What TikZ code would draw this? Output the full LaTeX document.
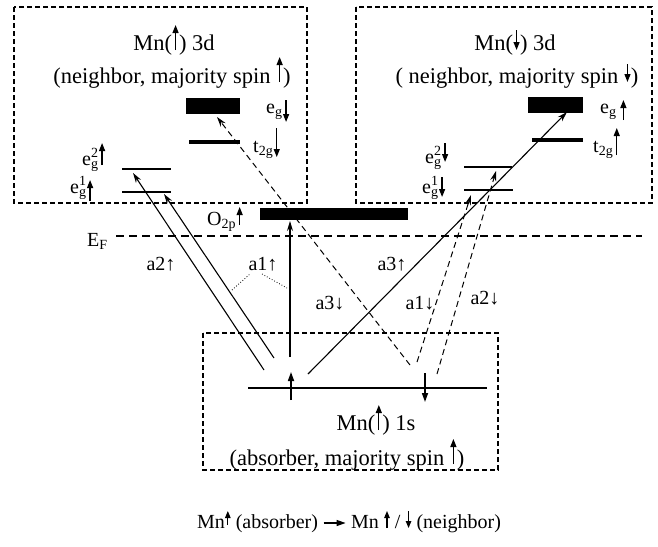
\documentclass[tikz,border=0pt]{standalone}
\usepackage{fontspec}
\setmainfont{Liberation Serif}
\usetikzlibrary{arrows.meta}
% inline spin arrow: from #1 to #2 (pt above baseline)
\newcommand{\SA}[2]{\tikz[baseline=0pt]{\useasboundingbox (-3.5pt,0pt) rectangle (3.5pt,1pt);\draw[line width=1.2pt,-{Triangle[length=8pt,width=6pt]}] (0pt,#1pt)--(0pt,#2pt);}}
\newcommand{\SB}[2]{\tikz[baseline=0pt]{\useasboundingbox (-3pt,0pt) rectangle (3pt,1pt);\draw[line width=1.1pt,-{Triangle[length=7pt,width=5.5pt]}] (0pt,#1pt)--(0pt,#2pt);}}
\newcommand{\LA}{\tikz[baseline=-5pt]{\draw[line width=1.2pt,-{Triangle[length=9pt,width=6pt]}] (0pt,0pt)--(22pt,0pt);}}
\begin{document}
\begin{tikzpicture}[x=1pt,y=-1pt,
  box/.style={dash pattern=on 5pt off 3pt, line width=1.3pt},
  txt/.style={font=\fontsize{20}{24}\selectfont, inner sep=0pt, anchor=base},
  big/.style={txt, font=\fontsize{22.5}{26}\selectfont},
  lbl/.style={txt, anchor=base west},
  tr/.style={line width=1.1pt,-{Stealth[length=10pt,width=6pt]}},
  trd/.style={tr, line width=1pt, dash pattern=on 6pt off 4pt},
  spin/.style={line width=1.6pt,-{Triangle[length=9pt,width=6pt]}}]
\fill[white] (0,0) rectangle (658,546);
\useasboundingbox (0,0) rectangle (658,546);
% boxes
\draw[box] (14,7) rectangle (307,203);
\draw[box] (356,7) rectangle (652,203);
\draw[box] (203,333) rectangle (498,470);
% Fermi level
\coordinate (EFl) at (116,236);
\coordinate (EFr) at (642,236);
\draw[line width=1.6pt, dash pattern=on 8pt off 5pt] (EFl) -- (EFr);
\node[lbl] (EF) at (87,246) {E\textsubscript{F}};
% left Mn 3d levels
\fill (186,98) rectangle (240,114);
\draw[line width=4pt] (189,142) -- (240,142);
\draw[line width=2pt] (122,169) -- (171,169);
\draw[line width=2.5pt] (122,192) -- (171,192);
% right Mn 3d levels
\fill (528,97) rectangle (583,113);
\draw[line width=4pt] (532,140) -- (583,140);
\draw[line width=2.5pt] (464,167) -- (512,167);
\draw[line width=2.5pt] (464,190) -- (513,190);
% O2p
\fill (260,208) rectangle (408,220);
\node[lbl] (O2p) at (207,225) {O\textsubscript{2p}\SA{0}{18}};
% titles
\node[big] (tL1) at (174,50) {Mn(\SA{0}{25}) 3d};
\node[big] (tL2) at (172,83) {(neighbor, majority spin \SA{1}{26})};
\node[big] (tR1) at (515,50) {Mn(\SA{20}{0}) 3d};
\node[big] (tR2) at (517,83) {( neighbor, majority spin \SA{19}{1})};
% level labels left
\node[lbl] (egL) at (266,113) {e\textsubscript{g}\SA{13}{-9}};
\node[lbl] (t2gL) at (253,152) {t\textsubscript{2g}\SA{24}{-5}};
\node[lbl] (e2L) at (82,165) {e\rlap{\textsuperscript{2}}\textsubscript{g}\SA{0}{22}};
\node[lbl] (e1L) at (70,193) {e\rlap{\textsuperscript{1}}\textsubscript{g}\SA{-8}{13}};
% level labels right
\node[lbl] (egR) at (600,113) {e\textsubscript{g}\,\SA{-7}{13}};
\node[lbl] (t2gR) at (593,152) {t\textsubscript{2g}\SA{-3}{24}};
\node[lbl] (e2R) at (425,163) {e\rlap{\textsuperscript{2}}\textsubscript{g}\SA{20}{1}};
\node[lbl] (e1R) at (422,193) {e\rlap{\textsuperscript{1}}\textsubscript{g}\SA{16}{-4}};
% 1s level
\draw[line width=1.5pt] (248,388) -- (487,388);
\coordinate (su0) at (291,400); \coordinate (su1) at (291,372);
\coordinate (sd0) at (425,373); \coordinate (sd1) at (425,402);
\draw[spin] (su0) -- (su1);
\draw[spin] (sd0) -- (sd1);
\node[big] (mn1s) at (376,430) {Mn(\SA{0}{25}) 1s};
\node[big] (abs) at (347,465) {(absorber, majority spin \SA{1}{26})};
% transitions
\coordinate (a2Aft) at (264,370); \coordinate (a2Ato) at (133,173);
\coordinate (a2Bft) at (274,358); \coordinate (a2Bto) at (164,194);
\coordinate (a1ft) at (290,357); \coordinate (a1to) at (290,221);
\coordinate (a3uft) at (308,374); \coordinate (a3uto) at (567,112);
\coordinate (a3dft) at (410,365); \coordinate (a3dto) at (217,117);
\coordinate (a1dft) at (417,362); \coordinate (a1dto) at (471,195);
\coordinate (a2dft) at (437,374); \coordinate (a2dto) at (496,171);
\draw[tr] (a2Aft) -- (a2Ato);
\draw[tr] (a2Bft) -- (a2Bto);
\draw[tr] (a1ft) -- (a1to);
\draw[tr] (a3uft) -- (a3uto);
\draw[trd] (a3dft) -- (a3dto);
\draw[trd] (a1dft) -- (a1dto);
\draw[trd] (a2dft) -- (a2dto);
% transition labels
\node[txt] (la2u) at (161,270) {a2↑};
\node[txt] (la1u) at (263,270) {a1↑};
\node[txt] (la3u) at (392,270) {a3↑};
\node[txt] (la3d) at (330,309) {a3↓};
\node[txt] (la1d) at (420,309) {a1↓};
\node[txt] (la2d) at (485,304) {a2↓};
\coordinate (d1a) at (232,290); \coordinate (d1b) at (250,274);
\coordinate (d2a) at (262,274); \coordinate (d2b) at (287,288);
\draw[dotted, line width=0.8pt] (d1a) -- (d1b);
\draw[dotted, line width=0.8pt] (d2a) -- (d2b);
% caption
\node[txt] (cap) at (349,528) {Mn\SB{3}{17} (absorber) \LA{} Mn \SB{0}{17} / \SB{17}{0} (neighbor)};
\end{tikzpicture}
\end{document}
